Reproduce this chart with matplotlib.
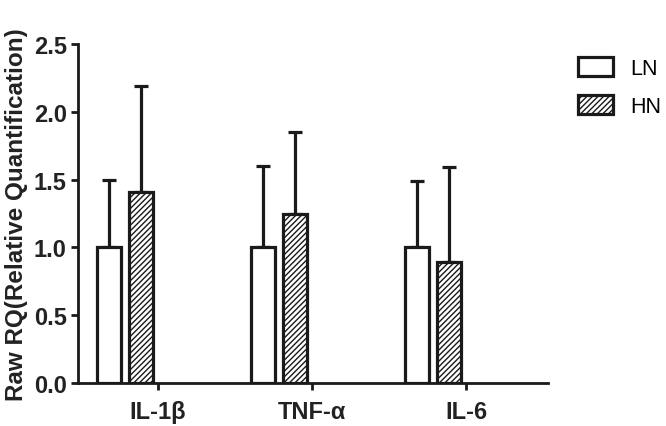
import matplotlib
matplotlib.use('Agg')
import matplotlib.pyplot as plt
import numpy as np

# data
genes = ['IL-1β', 'TNF-α', 'IL-6']
ln_mean = [1.00, 1.00, 1.00]
ln_err = [0.50, 0.60, 0.49]
hn_mean = [1.41, 1.25, 0.89]
hn_err = [0.78, 0.60, 0.70]

plt.rcParams['font.family'] = ['Liberation Sans', 'DejaVu Sans']
plt.rcParams['hatch.linewidth'] = 1.0
plt.rcParams['hatch.color'] = '#555555'

fig = plt.figure(figsize=(6.66, 4.27), dpi=100)
ax = fig.add_axes([0.117, 0.1007, 0.706, 0.7939])

x = np.arange(len(genes))
w = 0.156
lw = 2.3

ax.bar(x - 0.318, ln_mean, w, color='white', edgecolor='#1a1a1a', linewidth=lw, label='LN', zorder=2)
ax.bar(x - 0.11, hn_mean, w, color='white', edgecolor='#1a1a1a', linewidth=lw, hatch='//////', label='HN', zorder=2)

zeros = [0] * len(genes)
ax.errorbar(x - 0.318, ln_mean, yerr=[zeros, ln_err], fmt='none', ecolor='#1a1a1a',
            elinewidth=lw, capsize=5, capthick=lw, zorder=1)
ax.errorbar(x - 0.11, hn_mean, yerr=[zeros, hn_err], fmt='none', ecolor='#1a1a1a',
            elinewidth=lw, capsize=5, capthick=lw, zorder=1)

ax.set_xlim(-0.52, 2.53)
ax.set_ylim(0, 2.5)
ax.set_yticks([0, 0.5, 1.0, 1.5, 2.0, 2.5])
ax.set_yticklabels(['0.0', '0.5', '1.0', '1.5', '2.0', '2.5'])
ax.set_xticks(x)
ax.set_xticklabels(genes)

for s in ['top', 'right']:
    ax.spines[s].set_visible(False)
for s in ['left', 'bottom']:
    ax.spines[s].set_linewidth(2)
    ax.spines[s].set_color('#1a1a1a')

ax.tick_params(axis='both', width=2, length=5, color='#1a1a1a', labelsize=17)
ax.tick_params(axis='x', pad=7)
ax.tick_params(axis='y', pad=3)
for lbl in ax.get_xticklabels() + ax.get_yticklabels():
    lbl.set_fontweight('bold')
    lbl.set_color('#222222')

ax.set_ylabel('Raw RQ(Relative Quantification)', fontsize=17.5, fontweight='bold', color='#222222', labelpad=4)

leg = ax.legend(loc='upper left', bbox_to_anchor=(0.852, 0.89), bbox_transform=fig.transFigure,
                frameon=False, fontsize=15.5, handlelength=1.6, handleheight=1.0,
                labelspacing=0.75, handletextpad=0.8, borderpad=0)

fig.savefig('out.png', dpi=100)
